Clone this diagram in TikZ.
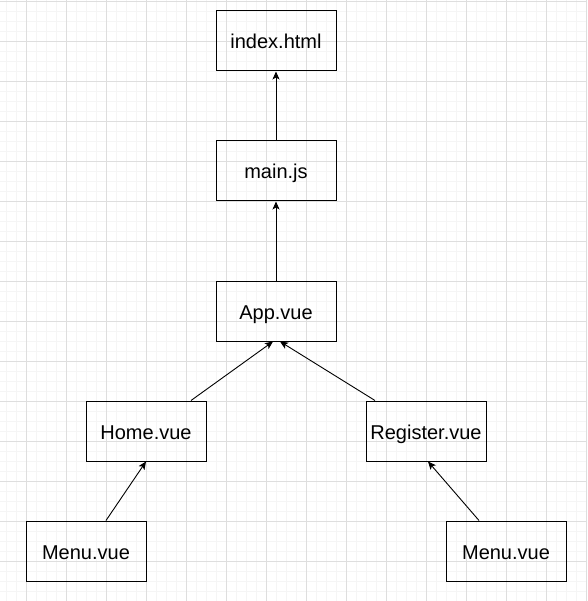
\documentclass[tikz,border=0pt]{standalone}
\usepackage{fontspec}
\setmainfont{Liberation Sans}
\usetikzlibrary{arrows.meta}

\begin{document}
\begin{tikzpicture}
    [x=1pt, y=-1pt,
    filebox/.style={rectangle, draw, line width=1pt, minimum width=120pt, minimum height=60pt, inner sep=0pt, text height=20pt, text depth=4pt, font=\fontsize{20}{24}\selectfont},
    dep/.style={-{Stealth[length=8pt, width=7pt, inset=2pt]}, line width=0.9pt},
    minorline/.style={black!4, line width=1pt},
    majorline/.style={black!13, line width=1pt}]
  \useasboundingbox (0,0) rectangle (587,601);
  % background grid
  \foreach \x in {6.3,16.3,...,586.3}
    \draw [minorline] (\x,0) -- (\x,601);
  \foreach \y in {1.3,11.3,...,601.3}
    \draw [minorline] (0,\y) -- (587,\y);
  \foreach \x in {26.3,66.3,...,586.3}
    \draw [majorline] (\x,0) -- (\x,601);
  \foreach \y in {1.3,41.3,...,601.3}
    \draw [majorline] (0,\y) -- (587,\y);

  % files
  \node [filebox] (index) at (276,41) {index.html};
  \node [filebox] (main) at (276,171) {main.js};
  \node [filebox] (app) at (276,311) {App.vue};
  \node [filebox] (home) at (146,431) {Home.vue};
  \node [filebox] (register) at (426,431) {Register.vue};
  \node [filebox] (menuL) at (86,551) {Menu.vue};
  \node [filebox] (menuR) at (506,551) {Menu.vue};

  % imports
  \draw [dep] (main.north) -- (index.south);
  \draw [dep] (app.north) -- (main.south);
  \draw [dep] ([xshift=45pt]home.north) -- ([xshift=-3pt]app.south);
  \draw [dep] ([xshift=-51pt]register.north) -- ([xshift=4pt]app.south);
  \draw [dep] ([xshift=20pt]menuL.north) -- (home.south);
  \draw [dep] ([xshift=-27pt]menuR.north) -- ([xshift=2pt]register.south);
\end{tikzpicture}
\end{document}
